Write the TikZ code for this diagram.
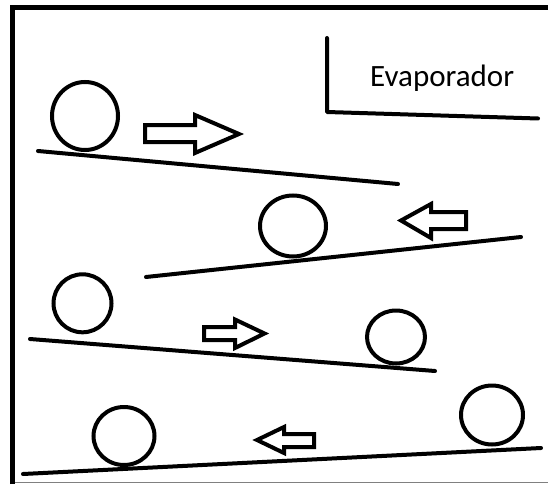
\documentclass[tikz,border=0pt]{standalone}
\usepackage{fontspec}
\setmainfont{Carlito}
\begin{document}
\begin{tikzpicture}[x=1pt,y=-1pt,
  stroke/.style={line width=4pt,line cap=round,line join=round},
  ball/.style={line width=4pt},
  flow/.style={line width=4pt,line join=miter,fill=white},
  frame/.style={line width=5pt}]
\useasboundingbox (0,0) rectangle (548,484);
% outer frame: left and top edges, thin grey bottom edge
\draw[frame] (12.5,484) -- (12.5,7.5) -- (548,7.5);
\draw[line width=1.3pt,gray] (15,482.3) -- (548,482.3);

% evaporator bracket and label
\draw[stroke] (327,38) -- (327,112) -- (538,118.5);
\node[anchor=base west,inner sep=0pt,font=\fontsize{31}{36}\selectfont] (evap) at (370,87) {Evaporador};

% inclined trays
\draw[stroke] (38,151) -- (398,184);
\draw[stroke] (146,277) -- (521,237);
\draw[stroke] (30,339) -- (435,371);
\draw[stroke] (23,474) -- (541,448);

% balls
\draw[ball] (85,116) ellipse [x radius=33,y radius=34];
\draw[ball] (293,226) ellipse [x radius=33,y radius=30.5];
\draw[ball] (82.5,303.3) ellipse [x radius=29,y radius=29];
\draw[ball] (124,436) ellipse [x radius=30.5,y radius=29];
\draw[ball] (396,337) ellipse [x radius=29,y radius=26.5];
\draw[ball] (492,415) ellipse [x radius=31,y radius=29.5];

% direction arrows
\draw[flow] (145,125) -- (195,125) -- (195,115) -- (239,134) -- (195,153) -- (195,142) -- (145,142) -- cycle;
\draw[flow] (466,212) -- (431,212) -- (431,204) -- (401,220.5) -- (431,238) -- (431,229) -- (466,229) -- cycle;
\draw[flow] (204,327) -- (235,327) -- (235,319.5) -- (264.5,333.5) -- (235,348) -- (235,340) -- (204,340) -- cycle;
\draw[flow] (314,434) -- (284,434) -- (284,427) -- (257,440) -- (284,453) -- (284,447) -- (314,447) -- cycle;
\end{tikzpicture}
\end{document}
